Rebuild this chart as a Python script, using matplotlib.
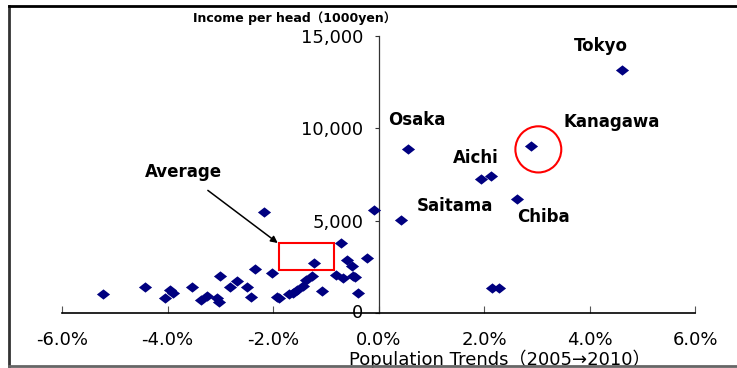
import matplotlib.pyplot as plt
import numpy as np
from matplotlib.lines import Line2D
from matplotlib.patches import Ellipse, Rectangle
from matplotlib.ticker import FuncFormatter

plt.rcParams["font.family"] = ["DejaVu Sans", "Noto Sans CJK KR"]

# population change 2005->2010 (%) and income per head (1000 yen)
pop_change = [
    4.61, 2.90, 0.55, 1.95, 2.14, 2.62, 0.42, -0.08, 2.16, 2.29,
    -0.22, -0.38, -5.23, -4.42, -4.04, -3.96, -3.90, -3.53, -3.37, -3.26,
    -3.07, -3.03, -3.01, -2.82, -2.69, -2.50, -2.41, -2.35, -2.18, -2.01,
    -1.93, -1.88, -1.69, -1.62, -1.54, -1.44, -1.37, -1.27, -1.23, -1.08,
    -0.72, -0.80, -0.68, -0.59, -0.51, -0.49, -0.44,
]
income = [
    13160, 9050, 8880, 7260, 7420, 6180, 5040, 5580, 1350, 1350,
    3000, 1080, 1030, 1410, 810, 1250, 1080, 1410, 700, 920,
    810, 600, 2000, 1410, 1730, 1410, 870, 2380, 5470, 2170,
    870, 810, 1030, 1080, 1250, 1460, 1790, 2000, 2710, 1190,
    3770, 2060, 1900, 2870, 2550, 2000, 1950,
]

names = ["Tokyo", "Kanagawa", "Osaka", "Aichi", "Saitama", "Chiba"]
name_x = [4.21, 4.42, 0.72, 1.84, 1.44, 3.13]
name_y = [14460, 10350, 10450, 8400, 5800, 5200]

# box marking the national average
avg_x = [-1.88, -0.85]
avg_y = [2330, 3790]

xticks = [-6, -4, -2, 0, 2, 4, 6]
yticks = [0, 5000, 10000, 15000]

fig = plt.figure(figsize=(7.37, 3.68), dpi=100)
ax = fig.add_axes([62 / 737, 1 - 313 / 368, 633 / 737, 277 / 368])

diamond = [(-1, 0), (0, 0.78), (1, 0), (0, -0.78), (-1, 0)]
ax.scatter(pop_change, income, marker=diamond, s=90, color="#000080",
           linewidths=0, zorder=3, clip_on=False)

ax.set_xlim(-6, 6)
ax.set_ylim(0, 15000)
ax.set_xticks(xticks)
ax.set_yticks(yticks)
ax.xaxis.set_major_formatter(FuncFormatter(lambda v, p: f"{v:.1f}%"))
ax.yaxis.set_major_formatter(FuncFormatter(lambda v, p: f"{v:,.0f}"))

for side in ["top", "right"]:
    ax.spines[side].set_visible(False)
ax.spines["left"].set_position(("data", 0))
ax.spines["left"].set_color("#333333")
ax.spines["bottom"].set_color("black")
ax.spines["left"].set_linewidth(0.9)
ax.spines["bottom"].set_linewidth(1.2)

ax.tick_params(axis="x", direction="in", length=5, pad=13, labelsize=13,
               color="#555555")
ax.tick_params(axis="y", direction="out", length=3, pad=8, labelsize=13,
               color="#333333")
ax.get_yticklabels()[0].set_verticalalignment("center")

for name, tx, ty in zip(names, name_x, name_y):
    ax.text(tx, ty, name, ha="center", va="center", fontsize=12,
            fontweight="bold")

ax.add_patch(Rectangle((avg_x[0], avg_y[0]), avg_x[1] - avg_x[0],
                       avg_y[1] - avg_y[0], fill=False, edgecolor="red",
                       linewidth=1.5, zorder=2))
ax.annotate("Average", xy=(avg_x[0] - 0.03, avg_y[1]), xytext=(-3.70, 7640),
            ha="center", va="center", fontsize=12, fontweight="bold",
            arrowprops=dict(arrowstyle="-|>", color="black", lw=1.1,
                            mutation_scale=10, shrinkA=8, shrinkB=0))

ax.add_patch(Ellipse((3.03, 8860), 0.87, 2500, fill=False, edgecolor="red",
                     linewidth=1.5, zorder=4))

ax.text(0.367, 1.065, "Income per head（1000yen）", transform=ax.transAxes,
        ha="center", va="center", fontsize=9, fontweight="bold")
ax.set_xlabel("Population Trends（2005→2010）", fontsize=13)
ax.xaxis.set_label_coords(0.692, -0.166)
ax.xaxis.label.set_verticalalignment("center")

# outer frame
fig.add_artist(Line2D([9 / 737, 9 / 737], [1 - 366 / 368, 1 - 6 / 368],
                      color="#333333", lw=2))
fig.add_artist(Line2D([9 / 737, 1], [1 - 6 / 368, 1 - 6 / 368],
                      color="black", lw=2))
fig.add_artist(Line2D([9 / 737, 1], [1 - 366 / 368, 1 - 366 / 368],
                      color="#666666", lw=2))

fig.savefig("out.png", dpi=100)
